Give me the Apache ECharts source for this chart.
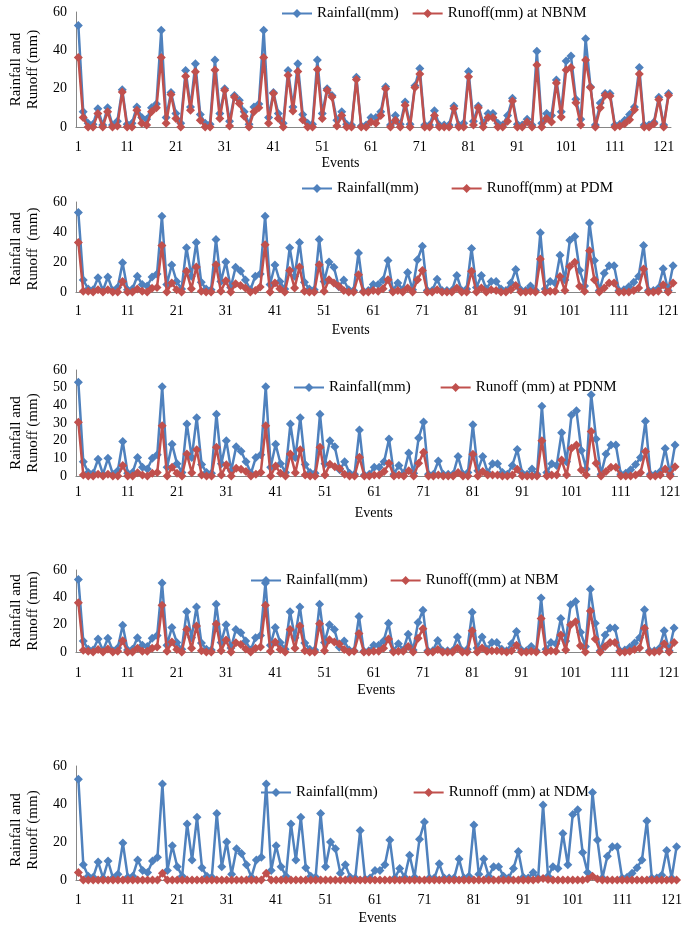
<!DOCTYPE html>
<html>
<head>
<meta charset="utf-8">
<script src="https://cdn.jsdelivr.net/npm/echarts@6/dist/echarts.min.js"></script>
<style>html,body{margin:0;padding:0;background:#fff;}#c{width:685px;height:929px;}</style>
</head>
<body>
<div id="c"></div>
<script>
var events = [];
for (var i = 1; i <= 122; i++) events.push(String(i));

var rainfall = [
53, 8, 2, 1.5, 9.5, 1, 10, 1, 3, 19.5,
1.5, 2, 10.5, 5, 4, 10, 12, 50.5, 5, 18,
7, 2, 29.5, 10.5, 33, 6.5, 2, 1.5, 35, 7,
20, 3, 16.5, 14, 8, 1.5, 10.5, 12, 50.5, 5,
18, 7, 2, 29.5, 10.5, 33, 6.5, 2, 1.5, 35,
7, 20, 16.5, 3.5, 8, 1.5, 1, 26, 0.5, 1,
5, 5, 8, 21, 1, 6, 1.5, 13, 1.5, 21.5,
30.5, 1, 1, 8.5, 1, 1, 1, 11, 1, 2,
29, 3, 11, 2, 7, 7, 2, 1, 6, 15,
1.5, 1, 4, 1, 39.5, 2, 7, 6, 24.5, 8,
34.5, 37, 14.5, 4, 46, 21, 1, 12.5, 17.5, 17.5,
1, 1.5, 3.5, 6.5, 10.5, 31, 1, 1, 2.5, 15.5,
1, 17.5];

var runoffNBNM = [
36.3, 5, 0, 0, 7, 0, 8, 0, 0.5, 18.3,
0, 0, 8.7, 2, 1, 8, 10, 36.3, 2, 17,
4.4, 0, 26.5, 8.7, 28.8, 3.5, 0, 0, 29.7, 4.4,
19.2, 0.5, 15.7, 12.2, 5.6, 0, 8, 10, 36.3, 2,
17.5, 4.4, 0, 27, 8.4, 29, 3.8, 0, 0, 30,
4.4, 19.2, 15.7, 0.5, 6, 0, 0, 24.8, 0, 0,
2.6, 2, 6, 20, 0, 3.5, 0, 11.3, 0, 20.6,
27.6, 0, 0, 6, 0, 0, 0, 9.6, 0, 0,
26.2, 1, 10, 0, 5, 5, 0, 0, 3, 13.6,
0, 0, 2.6, 0, 32.3, 0, 4.4, 2.6, 23, 5.2,
29.7, 31, 12.6, 1, 35, 20.6, 0, 10, 16.6, 16.2,
0, 0.5, 1.7, 3.8, 9, 27.6, 0, 0, 1.7, 14.3,
0, 16.6];

var runoffPDM = [
33, 0.5, 0.5, 0, 1.5, 0, 1.5, 0, 0, 7,
0, 0, 2, 0.5, 0, 2.5, 3, 31, 0, 6,
1.5, 0, 13.8, 2.2, 16.7, 0.5, 0, 0, 18.2, 0.5,
7.5, 0, 5.5, 4.4, 2.7, 0, 1, 3.3, 31.5, 0,
6, 2.2, 0, 14.4, 2.7, 16.7, 0.5, 0, 0, 18.2,
0.5, 8.2, 6, 3.8, 1, 0, 0, 11.5, 0, 0,
1, 0.5, 2.2, 8.2, 0, 1, 0, 2.7, 0, 8.2,
14.4, 0, 0, 1.5, 0, 0, 0, 2.7, 0, 0,
13.8, 0, 2.7, 0, 1.5, 1, 0, 0, 1.5, 4.4,
0, 0, 0.5, 0, 22, 0, 0.5, 0.5, 10.4, 1,
17, 19.8, 3.8, 0.5, 27.5, 8.2, 0, 2.7, 6, 6,
0, 0, 0, 1, 2.7, 15.3, 0, 0, 0.5, 4.9,
0, 6];

var runoffPDNM = [
30.4, 0.5, 0, 0, 1, 0, 1, 0, 0, 5.9,
0, 0, 1.9, 0.5, 0, 1.5, 2, 28.5, 0, 5,
1.5, 0, 12.5, 1.9, 14.8, 0.5, 0, 0, 16.3, 0.5,
6.3, 0, 4.4, 3.8, 2.5, 0, 1, 2, 28.5, 0,
5.7, 1.5, 0, 12.5, 1.9, 14.8, 0.5, 0, 0, 16.3,
0.5, 6.6, 5.3, 4.2, 1, 0, 0, 10.6, 0, 0,
0.5, 0.5, 2.5, 7.2, 0, 0.5, 0, 3, 0, 7.2,
13.5, 0, 0, 0.5, 0, 0, 0, 2, 0, 0,
12.3, 0, 2.5, 0.5, 0.5, 0.5, 0, 0, 0.5, 3.8,
0, 0, 0, 0, 20, 0, 0.5, 0.5, 9, 0.5,
15.7, 17.6, 3.4, 0.5, 25.2, 7.2, 0, 2.5, 5, 5,
0, 0, 0, 0.5, 1.9, 13.8, 0, 0, 0.5, 4,
0, 5.3];

var runoffNBM = [
36, 1.3, 0.5, 0, 1.8, 0, 2.2, 0, 0.5, 8.2,
0, 0, 2.7, 0.5, 0.5, 2.7, 3.6, 34.2, 0.5, 7.3,
1.8, 0, 16.4, 2.7, 19, 1, 0, 0, 20.5, 1,
8.7, 0, 6.7, 5.5, 2.2, 0, 2.7, 3.6, 34.2, 0.5,
7.3, 1.8, 0, 16.4, 2.7, 19, 1, 0, 0, 20.7,
1, 9, 7.3, 5.8, 1.8, 0, 0.5, 13.6, 0, 0,
0.5, 0.5, 2.7, 9.5, 0, 0.5, 0.5, 4, 0, 10,
17, 0, 0, 1.8, 0, 0, 0, 3, 0, 0,
15.5, 0, 3, 0.5, 1, 1, 0.5, 0, 1, 5,
0, 0, 0.5, 0, 24.5, 0, 1, 0.5, 12.4, 1.5,
20, 22.2, 4.5, 0, 30, 9.5, 0, 4, 7, 7,
0, 0, 0.5, 1.8, 3, 17.3, 0, 0, 0.5, 6,
0, 7];

var runoffNDM = [
4, 0, 0, 0, 0, 0, 0, 0, 0, 0,
0, 0, 0, 0, 0, 0, 0, 3.5, 0, 0,
0, 0, 0, 0, 0, 0, 0, 0, 0, 0,
0, 0, 0, 0, 0, 0, 0, 0, 3.5, 0,
0, 0, 0, 0, 0, 0, 0, 0, 0, 0,
0, 0, 0, 0, 0, 0, 0, 0, 0, 0,
0, 0, 0, 0, 0, 0, 0, 0, 0, 0,
0, 0, 0, 0, 0, 0, 0, 0, 0, 0,
0, 0, 0, 0, 0, 0, 0, 0, 0, 0,
0, 0, 0, 0.3, 0.8, 0.3, 0, 0, 0, 0,
0, 0, 0, 0.5, 2, 0.5, 0, 0, 0, 0,
0, 0, 0, 0, 0, 0, 0, 0, 0, 0,
0, 0];

var runoffNames = ['Runoff(mm) at NBNM', 'Runoff(mm) at PDM', 'Runoff (mm) at PDNM', 'Runoff((mm) at NBM', 'Runnoff (mm) at NDM'];
var runoffData = [runoffNBNM, runoffPDM, runoffPDNM, runoffNBM, runoffNDM];
var yTitles = ['Rainfall and\nRunoff (mm)', 'Rainfall and\nRunoff  (mm)', 'Rainfall and\nRunoff (mm)', 'Rainfall and\nRunoff (mm)', 'Rainfall and\nRunoff (mm)'];
var yIntervals = [20, 20, 10, 20, 20];

// layout
var panels = [
  {left: 66, right: 14, top: 12, height: 115, legLeft: 276, legTop: 1, legGap: 13, evPad: 66, nameGap: 29, labMargin: 13, yPad: 0},
  {left: 69.5, right: 9.5, top: 202, height: 90, legLeft: 296, legTop: 176, legGap: 32, evPad: 50, nameGap: 31, labMargin: 12, yPad: 4},
  {left: 63.5, right: 7.5, top: 370, height: 106, legLeft: 288, legTop: 375, legGap: 29, evPad: 6, nameGap: 30, labMargin: 9, yPad: 20},
  {left: 66.5, right: 8.5, top: 570, height: 82, legLeft: 245, legTop: 568, legGap: 22, evPad: 0, nameGap: 31, labMargin: 14, yPad: 0},
  {left: 66.5, right: 5.5, top: 766, height: 114, legLeft: 255, legTop: 780, legGap: 35, evPad: 0, nameGap: 31, labMargin: 13, yPad: 14}
];

var FONT = '"Liberation Serif", "Times New Roman", serif';
var BLUE = '#4F81BD', RED = '#C0504D', AXIS = '#868686';

var grid = [], xAxis = [], yAxis = [], series = [], legend = [];
panels.forEach(function (p, k) {
  grid.push({left: p.left, right: p.right, top: p.top, height: p.height, containLabel: false});
  xAxis.push({
    type: 'category', gridIndex: k, data: events, boundaryGap: true,
    name: 'Events', nameLocation: 'middle', nameGap: p.nameGap,
    nameTextStyle: {fontFamily: FONT, fontSize: 14, color: '#000', padding: [0, p.evPad, 0, 0]},
    axisLine: {show: true, lineStyle: {color: AXIS, width: 1}},
    axisTick: {show: false},
    axisLabel: {interval: 9, margin: p.labMargin, fontFamily: FONT, fontSize: 14, color: '#000'},
    splitLine: {show: false}
  });
  yAxis.push({
    type: 'value', gridIndex: k, min: 0, max: 60, interval: yIntervals[k],
    name: yTitles[k], nameLocation: 'middle', nameRotate: 90, nameGap: 29,
    nameTextStyle: {fontFamily: FONT, fontSize: 15, color: '#000', lineHeight: 17, padding: [0, p.yPad, 0, 0]},
    axisLine: {show: true, lineStyle: {color: AXIS, width: 1}},
    axisTick: {show: false},
    axisLabel: {margin: 9, fontFamily: FONT, fontSize: 14, color: '#000'},
    splitLine: {show: false}
  });
  series.push({
    name: 'Rainfall(mm)', type: 'line', xAxisIndex: k, yAxisIndex: k, data: rainfall,
    symbol: 'diamond', symbolSize: 9, showAllSymbol: true,
    lineStyle: {color: BLUE, width: 2.5}, itemStyle: {color: BLUE},
    z: 2, animation: false
  });
  series.push({
    name: runoffNames[k], type: 'line', xAxisIndex: k, yAxisIndex: k, data: runoffData[k],
    symbol: 'diamond', symbolSize: 9, showAllSymbol: true,
    lineStyle: {color: RED, width: 2.5}, itemStyle: {color: RED},
    z: 3, animation: false
  });
  legend.push({
    data: ['Rainfall(mm)', runoffNames[k]],
    left: p.legLeft, top: p.legTop, itemGap: p.legGap, itemWidth: 30, itemHeight: 11,
    textStyle: {fontFamily: FONT, fontSize: 15, color: '#000'},
    selectedMode: false
  });
});

var chart = echarts.init(document.getElementById('c'), null, {renderer: 'canvas'});
chart.setOption({
  backgroundColor: '#fff',
  animation: false,
  grid: grid, xAxis: xAxis, yAxis: yAxis, series: series, legend: legend
});
</script>
</body>
</html>
